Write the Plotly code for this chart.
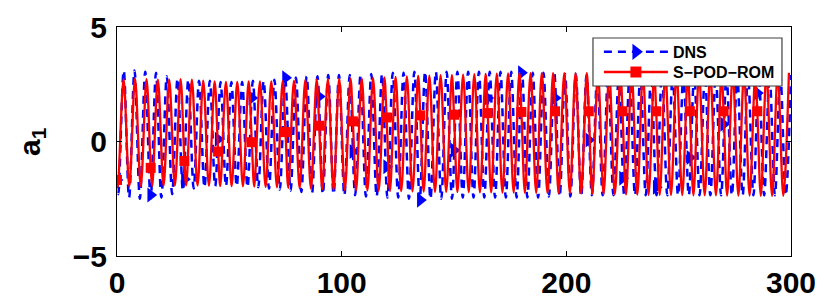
import plotly.graph_objects as go

# ---------------- data ----------------
# S-POD-ROM (red): extrema of the oscillation and marker points
red_peak_t = [2.93, 8.03, 13.13, 18.20, 23.24, 28.28, 33.33, 38.38,
              43.44, 48.49, 53.53, 58.58, 63.63, 68.68, 73.73, 78.77, 83.81, 88.84,
              93.87, 98.90, 103.92, 108.94, 113.96, 118.98, 124.00, 129.01,
              134.02, 139.03, 144.03, 149.04, 154.05, 159.05, 164.06, 169.06,
              174.07, 179.07, 184.08, 189.08, 194.08, 199.08, 204.08, 209.08, 214.08, 219.08,
              224.08, 229.08, 234.08, 239.08, 244.08, 249.08, 254.08, 259.08, 264.08, 269.08,
              274.08, 279.08, 284.08, 289.08, 294.08, 299.08]
red_peak_v = [2.72, 2.74, 2.72, 2.70, 2.70, 2.72, 2.70, 2.66,
              2.62, 2.60, 2.60, 2.62, 2.62, 2.62, 2.64, 2.66, 2.68, 2.70,
              2.72, 2.74, 2.75, 2.76, 2.78, 2.80, 2.82, 2.84,
              2.86, 2.88, 2.90, 2.90, 2.92, 2.94, 2.95, 2.96,
              2.97, 2.98, 2.98, 2.98, 2.98, 2.98, 2.98, 2.98, 2.98, 2.98,
              2.98, 2.98, 2.98, 2.98, 2.98, 2.98, 2.98, 2.98, 2.98, 2.98,
              2.98, 2.98, 2.98, 2.98, 2.98, 3.00]
red_trough_t = [0.38, 5.48, 10.58, 15.68, 20.72, 25.76, 30.80, 35.85, 40.91, 45.96,
                51.01, 56.05, 61.10, 66.15, 71.20, 76.25, 81.29, 86.32,
                91.36, 96.38, 101.41, 106.43, 111.45, 116.47, 121.49, 126.50,
                131.51, 136.52, 141.53, 146.53, 151.54, 156.55, 161.55, 166.56, 171.56,
                176.57, 181.57, 186.58, 191.58, 196.58, 201.58, 206.58, 211.58, 216.58,
                221.58, 226.58, 231.58, 236.58, 241.58, 246.58, 251.58, 256.58,
                261.58, 266.58, 271.58, 276.58, 281.58, 286.58, 291.58, 296.58]
red_trough_v = [-1.98, -1.96, -1.95, -1.94, -1.93, -1.92, -1.92, -1.92, -1.93, -1.94,
                -1.95, -1.96, -1.97, -1.98, -2.00, -2.02, -2.04, -2.06,
                -2.08, -2.10, -2.12, -2.13, -2.14, -2.15, -2.16, -2.17,
                -2.18, -2.19, -2.20, -2.20, -2.20, -2.21, -2.22, -2.22, -2.23,
                -2.23, -2.24, -2.24, -2.25, -2.25, -2.26, -2.27, -2.28, -2.29,
                -2.30, -2.31, -2.32, -2.33, -2.33, -2.34, -2.34, -2.35,
                -2.35, -2.35, -2.36, -2.36, -2.36, -2.37, -2.37, -2.37]
red_mark_t = [0, 15, 30, 45, 60, 75, 90, 105, 120, 135,
              150, 165, 180, 195, 210, 225, 240, 255, 270, 285]
red_mark_v = [-1.68, -1.15, -0.85, -0.44, -0.03, 0.41, 0.69, 0.88, 1.05, 1.14,
              1.17, 1.24, 1.29, 1.32, 1.32, 1.32, 1.32, 1.32, 1.32, 1.32]

# DNS (blue): extrema of the oscillation and marker points
blue_peak_t = [2.99, 7.78, 12.57, 17.36, 22.15, 26.94, 31.73, 36.52, 41.31, 46.10,
               50.90, 55.69, 60.48, 65.27, 70.06, 74.85, 79.64, 84.43, 89.22, 94.01,
               98.81, 103.60, 108.39, 113.18, 117.97, 122.76, 127.55, 132.34, 137.13, 141.92,
               146.72, 151.51, 156.30, 161.09, 165.88, 170.67, 175.46, 180.25, 185.04, 189.83,
               194.63, 199.42, 204.21, 209.00, 213.79, 218.58, 223.37, 228.16, 232.95, 237.74,
               242.54, 247.33, 252.12, 256.91, 261.70, 266.49, 271.28, 276.07, 280.86, 285.65,
               290.45, 295.24, 300.00]
blue_peak_v = [3.10, 3.10, 3.05, 3.00, 2.85, 2.75, 2.70, 2.65, 2.65, 2.60,
               2.60, 2.60, 2.65, 2.65, 2.70, 2.75, 2.80, 2.85, 2.85, 2.90,
               2.90, 2.90, 2.90, 2.95, 2.95, 3.00, 3.00, 3.05, 3.05, 3.05,
               3.05, 3.05, 3.05, 3.05, 3.05, 3.05, 3.05, 3.05, 3.00, 3.00,
               3.00, 2.95, 2.95, 2.90, 2.90, 2.90, 2.90, 2.90, 2.90, 2.90,
               2.90, 2.90, 2.90, 2.90, 2.90, 2.90, 2.90, 2.90, 2.90, 2.90,
               2.90, 2.90, 2.90]
blue_trough_t = [0.59, 5.38, 10.17, 14.96, 19.75, 24.55, 29.34, 34.13, 38.92, 43.71,
                 48.50, 53.29, 58.08, 62.87, 67.66, 72.46, 77.25, 82.04, 86.83, 91.62,
                 96.41, 101.20, 105.99, 110.78, 115.57, 120.37, 125.16, 129.95, 134.74, 139.53,
                 144.32, 149.11, 153.90, 158.69, 163.48, 168.28, 173.07, 177.86, 182.65, 187.44,
                 192.23, 197.02, 201.81, 206.60, 211.39, 216.19, 220.98, 225.77, 230.56, 235.35,
                 240.14, 244.93, 249.72, 254.51, 259.30, 264.10, 268.89, 273.68, 278.47, 283.26,
                 288.05, 292.84, 297.63]
blue_trough_v = [-2.30, -2.45, -2.50, -2.50, -2.45, -2.30, -2.15, -2.05, -2.00, -1.95,
                 -1.95, -1.95, -2.00, -2.00, -2.05, -2.10, -2.15, -2.20, -2.25, -2.30,
                 -2.30, -2.35, -2.35, -2.40, -2.40, -2.45, -2.45, -2.50, -2.55, -2.50,
                 -2.50, -2.50, -2.45, -2.45, -2.45, -2.45, -2.45, -2.45, -2.45, -2.45,
                 -2.40, -2.40, -2.40, -2.40, -2.35, -2.35, -2.35, -2.35, -2.35, -2.35,
                 -2.35, -2.35, -2.35, -2.35, -2.35, -2.35, -2.35, -2.35, -2.35, -2.35,
                 -2.35, -2.35, -2.35]
blue_mark_t = [0, 15, 30, 45, 60, 75, 90, 105, 120, 135,
               150, 165, 180, 195, 210, 225, 240, 255, 270, 285]
blue_mark_v = [-1.68, -2.34, -1.65, 0.10, 1.90, 2.78, 1.97, -0.44, -1.10, -2.56,
               -0.38, 1.90, 3.00, 1.90, 0.07, -1.60, -2.00, -0.70, 0.75, 2.12]

x_ticks = [0, 100, 200, 300]
y_ticks = [-5, 0, 5]
y_ticktext = ["\u22125", "0", "5"]
series_names = ["DNS", "S\u2212POD\u2212ROM"]
y_title = "a<sub>1</sub>"

# ---------------- assemble line paths ----------------
red_pts = sorted(zip(red_peak_t + red_trough_t + red_mark_t,
                     red_peak_v + red_trough_v + red_mark_v))
red_x = [p[0] for p in red_pts]
red_y = [p[1] for p in red_pts]

blue_pts = sorted(zip(blue_peak_t + blue_trough_t + blue_mark_t[:1],
                      blue_peak_v + blue_trough_v + blue_mark_v[:1]))
blue_x = [p[0] for p in blue_pts]
blue_y = [p[1] for p in blue_pts]

BLUE = "#0000ff"
RED = "#ff0000"
FONT = "Liberation Sans, Arial, Helvetica, sans-serif"

fig = go.Figure()
fig.add_trace(go.Scatter(x=blue_x, y=blue_y, mode="lines", showlegend=False,
                         line=dict(color=BLUE, width=2.5, dash="8px,6px", shape="spline"),
                         hoverinfo="skip"))
fig.add_trace(go.Scatter(x=blue_mark_t, y=blue_mark_v, mode="markers", showlegend=False,
                         marker=dict(symbol="triangle-right", size=13, color=BLUE,
                                     line=dict(width=0))))
fig.add_trace(go.Scatter(x=red_x, y=red_y, mode="lines", showlegend=False,
                         line=dict(color=RED, width=2.3, shape="spline"),
                         hoverinfo="skip"))
fig.add_trace(go.Scatter(x=red_mark_t, y=red_mark_v, mode="markers", showlegend=False,
                         marker=dict(symbol="square", size=10, color=RED,
                                     line=dict(width=0))))
# legend entries (one small legend per row, placed inside a framed box)
fig.add_trace(go.Scatter(x=[None], y=[None], mode="lines+markers", name=series_names[0],
                         legend="legend",
                         line=dict(color=BLUE, width=2.5, dash="8px,6px"),
                         marker=dict(symbol="triangle-right", size=14, color=BLUE)))
fig.add_trace(go.Scatter(x=[None], y=[None], mode="lines+markers", name=series_names[1],
                         legend="legend2",
                         line=dict(color=RED, width=2.5),
                         marker=dict(symbol="square", size=11, color=RED)))

axis_common = dict(showline=True, linecolor="black", linewidth=1, mirror="ticks",
                   ticks="inside", ticklen=5, tickwidth=1, tickcolor="black",
                   showgrid=False, zeroline=False, automargin=False,
                   tickfont=dict(family=FONT, size=30, color="black", weight="bold"))

legend_common = dict(xanchor="left", yanchor="middle", x=0.715,
                     bgcolor="rgba(0,0,0,0)", borderwidth=0, itemwidth=64,
                     font=dict(family=FONT, size=16, color="black", weight="bold"))

fig.update_layout(
    width=830, height=298,
    margin=dict(l=117, r=39, t=27, b=42),
    paper_bgcolor="white", plot_bgcolor="white",
    xaxis=dict(range=[0, 300], tickvals=x_ticks, ticklabelstandoff=0, **axis_common),
    yaxis=dict(range=[-5, 5], tickvals=y_ticks, ticktext=y_ticktext,
               ticklabelstandoff=3, **axis_common),
    legend=dict(y=0.891, **legend_common),
    legend2=dict(y=0.803, **legend_common),
    shapes=[dict(type="rect", xref="paper", yref="paper",
                 x0=0.7062, x1=0.9866, y0=0.7424, y1=0.952, layer="above",
                 fillcolor="white", line=dict(color="#404040", width=1.2))],
    annotations=[dict(text=y_title, xref="paper", yref="paper", x=-0.127, y=0.5,
                      xanchor="center", yanchor="middle", textangle=-90, showarrow=False,
                      font=dict(family=FONT, size=30, color="black", weight="bold"))],
)

fig.write_html("out.html", config={"displayModeBar": False},
               post_script="document.body.style.margin='0';")
